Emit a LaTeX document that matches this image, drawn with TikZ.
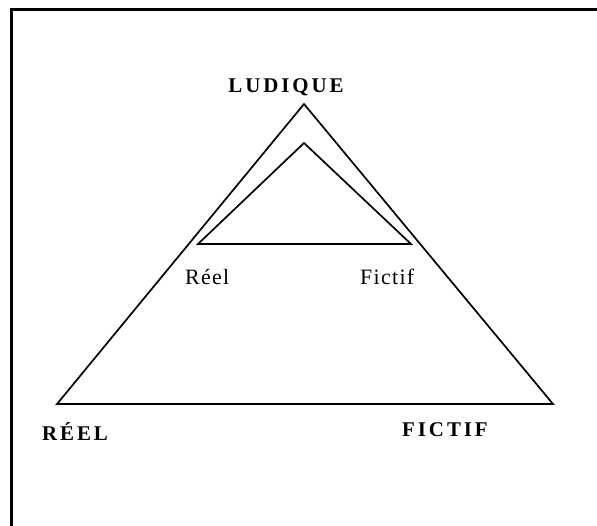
\documentclass[tikz,border=0pt]{standalone}
\usepackage{fontspec}
\setmainfont{Liberation Serif}
\newfontfamily\spacedbold[LetterSpace=14]{Liberation Serif Bold}
\newfontfamily\spacedreg[LetterSpace=6]{Liberation Serif}
\begin{document}
\begin{tikzpicture}[x=1bp,y=-1bp,
  pole/.style={inner sep=0pt,font=\spacedbold\fontsize{21}{21}\selectfont},
  sub/.style={inner sep=0pt,font=\spacedreg\fontsize{22}{22}\selectfont},
  edge/.style={line width=1.7bp,line join=miter}]
\useasboundingbox (0,0) rectangle (597,526);

\draw[line width=3bp] (11,526) -- (11,10) -- (597,10);

\coordinate (top) at (304,104);
\coordinate (left) at (57,404);
\coordinate (right) at (553,404);
\coordinate (itop) at (304,143);
\coordinate (ileft) at (198,244);
\coordinate (iright) at (411,244);

\draw[edge] (top) -- (left) -- (right) -- cycle;
\draw[edge] (itop) -- (ileft) -- (iright) -- cycle;

\node[pole,anchor=base] (ludique) at (286,93) {LUDIQUE};
\node[pole,anchor=base west] (reel) at (42,440) {RÉEL};
\node[pole,anchor=base west] (fictif) at (402,436) {FICTIF};
\node[sub,anchor=base west] (ireel) at (185,284) {Réel};
\node[sub,anchor=base west] (ifictif) at (360,284) {Fictif};
\end{tikzpicture}
\end{document}
